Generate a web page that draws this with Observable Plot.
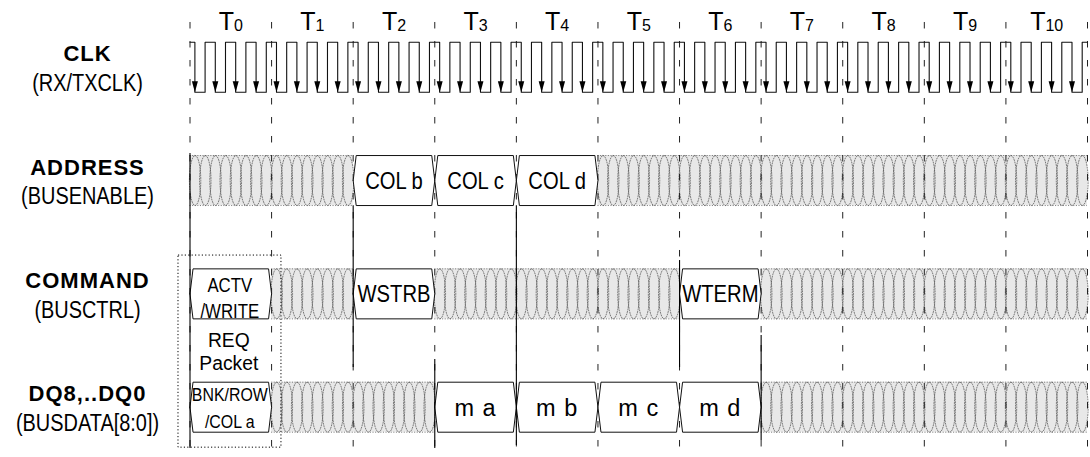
<!DOCTYPE html>
<html>
<head>
<meta charset="utf-8">
<script src="https://cdn.jsdelivr.net/npm/d3@7"></script>
<script src="https://cdn.jsdelivr.net/npm/@observablehq/plot@0.6"></script>
<style>
  html, body { margin: 0; padding: 0; background: #fff; }
  #chart svg { display: block; }
</style>
</head>
<body>
<div id="chart"></div>
<script>
// ---------------- data ----------------
const cycleLabels = ["T0","T1","T2","T3","T4","T5","T6","T7","T8","T9","T10"];
const cycleBoundaries = [0,1,2,3,4,5,6,7,8,9,10,11];
// four CLK periods per T cycle: falling-edge phases within one cycle
const clockFallPhases = [0.06, 0.31, 0.56, 0.81];
const clockLowLength = 0.125;

const signalNames   = ["CLK", "ADDRESS", "COMMAND", "DQ8,..DQ0"];
const signalAliases = ["(RX/TXCLK)", "(BUSENABLE)", "(BUSCTRL)", "(BUSDATA[8:0])"];

// bus segments: [start cycle, end cycle, value]  (null = don't care)
const addressBus = [[0,2,null],[2,3,"COL b"],[3,4,"COL c"],[4,5,"COL d"],[5,11,null]];
const commandBus = [[0,1,"ACTV\n/WRITE"],[1,2,null],[2,3,"WSTRB"],[3,6,null],[6,7,"WTERM"],[7,11,null]];
const dqBus      = [[0,1,"BNK/ROW\n/COL a"],[1,3,null],[3,4,"m a"],[4,5,"m b"],[5,6,"m c"],[6,7,"m d"],[7,11,null]];
const packetLabel = "REQ\nPacket";
const eventCycles = [0, 2, 3, 4, 6, 7];

// ---------------- layout (positions / styles) ----------------
const L = {
  xRange: [189.5, 1087],
  yRange: [66.7, 406.7],          // rows 0..3
  H: 0.2206,                      // half wave height (row units)
  slant: 0.037,                   // bus edge slant (cycle units)
  cell: 0.125,                    // don't-care hatch cell (cycle units)
  ruleTop: -0.3945, ruleBottom: 3.36,
  eventSpans: [[0.762,3.365],[1.222,2.650],[2.58,3.365],[1.222,3.338],[1.706,2.650],[2.367,3.294]],
  box: {x1: -0.141, x2: 1.121, y1: 1.662, y2: 3.357},
  labelX: 87,
  font: "'Liberation Sans', Arial, Helvetica, sans-serif"
};

// ---------------- derived tables ----------------
const buses = [{row: 1, segs: addressBus}, {row: 2, segs: commandBus}, {row: 3, segs: dqBus}];
const segs = buses.flatMap(b => b.segs.map(([s, e, label]) => ({row: b.row, s, e, label})));
const dontCare = segs.filter(d => d.label == null);
const valid = segs.filter(d => d.label != null);

const hexPts = valid.flatMap((d, i) => {
  const k = L.slant, H = L.H, r = d.row;
  return [[d.s, r],[d.s + k, r - H],[d.e - k, r - H],[d.e, r],[d.e - k, r + H],[d.s + k, r + H],[d.s, r]]
    .map(([x, y]) => ({x, y, id: i}));
});

const ellPts = [];
dontCare.forEach(d => {
  const n = Math.round((d.e - d.s) / L.cell);
  for (let i = 0; i < n; i++) {
    const cx = d.s + (i + 0.5) * L.cell;
    for (let j = 0; j <= 28; j++) {
      const a = j / 28 * 2 * Math.PI;
      ellPts.push({x: cx + L.cell * 0.56 * Math.sin(a), y: d.row - L.H * Math.cos(a), id: `${d.row}-${d.s}-${i}`});
    }
  }
});

const clkPts = [{x: 0, y: -L.H}];
const clkFalls = [];
cycleLabels.forEach((_, c) => clockFallPhases.forEach(p => {
  clkPts.push({x: c + p, y: L.H});
  clkPts.push({x: c + p + clockLowLength, y: -L.H});
  clkFalls.push(c + p);
}));
clkPts.push({x: 11, y: -L.H});

const arrowHead = {draw(ctx) { ctx.moveTo(0, 0); ctx.lineTo(-3, -11); ctx.lineTo(3, -11); ctx.closePath(); }};

const singleLabels = valid.filter(d => !d.label.includes("\n"));
const cmdTwoLine = valid.filter(d => d.label.includes("\n") && d.row === 2);
const dqTwoLine = valid.filter(d => d.label.includes("\n") && d.row === 3);

const chart = Plot.plot({
  width: 1090,
  height: 457,
  margin: 0,
  style: {background: "#fff"},
  x: {domain: [0, 11], range: L.xRange, axis: null},
  y: {domain: [0, 3], range: L.yRange, axis: null},
  marks: [
    // don't-care bands
    Plot.rect(dontCare, {x1: "s", x2: "e", y1: d => d.row - L.H, y2: d => d.row + L.H, fill: "#e8e8e8"}),
    Plot.line(ellPts, {x: "x", y: "y", z: "id", stroke: "#555", strokeWidth: 0.75, strokeDasharray: "1.1,1.5"}),
    Plot.ruleY(dontCare, {y: d => d.row - L.H, x1: "s", x2: "e", stroke: "#555", strokeWidth: 0.75, strokeDasharray: "1.1,1.5"}),
    Plot.ruleY(dontCare, {y: d => d.row + L.H, x1: "s", x2: "e", stroke: "#555", strokeWidth: 0.75, strokeDasharray: "1.1,1.5"}),
    // cycle boundaries
    Plot.ruleX(cycleBoundaries, {x: d => d, y1: L.ruleTop, y2: L.ruleBottom, stroke: "#222", strokeWidth: 1, strokeDasharray: "6.5,12.5"}),
    // valid bus values
    Plot.line(hexPts, {x: "x", y: "y", z: "id", fill: "white", stroke: "#111", strokeWidth: 1}),
    // clock
    Plot.line(clkPts, {x: "x", y: "y", curve: "step-after", stroke: "#111", strokeWidth: 1.1}),
    Plot.dot(clkFalls, {x: d => d, y: L.H, symbol: arrowHead, r: 4, fill: "#000", stroke: "none"}),
    // event lines
    Plot.ruleX(eventCycles, {x: d => d, y1: (d, i) => L.eventSpans[i][0], y2: (d, i) => L.eventSpans[i][1], stroke: "#000", strokeWidth: 1.1}),
    // request packet box
    Plot.rect([L.box], {x1: "x1", x2: "x2", y1: "y1", y2: "y2", fill: "none", stroke: "#000", strokeWidth: 1, strokeDasharray: "1.2,2.2"}),
    // texts
    Plot.text(cycleLabels, {x: (d, i) => i + 0.5, y: 0, dy: -45, text: d => d, fontSize: 25, fontFamily: L.font, fill: "#000"}),
    Plot.text(signalNames, {frameAnchor: "left", textAnchor: "middle", dx: L.labelX, y: (d, i) => i, dy: -13, text: d => d, fontSize: 22, fontWeight: "bold", fontFamily: L.font, fill: "#000"}),
    Plot.text(signalAliases, {frameAnchor: "left", textAnchor: "middle", dx: L.labelX, y: (d, i) => i, dy: 16, text: d => d, fontSize: 24, fontFamily: L.font, fill: "#000"}),
    Plot.text(singleLabels, {x: d => (d.s + d.e) / 2, y: "row", dy: 1, text: "label", fontSize: 23.5, fontFamily: L.font, fill: "#000"}),
    Plot.text(cmdTwoLine, {x: d => (d.s + d.e) / 2, y: "row", dy: 3, dx: -1, text: "label", fontSize: 21, lineHeight: 1.2, fontFamily: L.font, fill: "#000"}),
    Plot.text(dqTwoLine, {x: d => (d.s + d.e) / 2, y: "row", dy: -1, dx: -1, text: "label", fontSize: 18.5, lineHeight: 1.45, fontFamily: L.font, fill: "#000"}),
    Plot.text([packetLabel], {x: 0.5, y: 2.5, dy: 1, dx: -2, text: d => d, fontSize: 21, lineHeight: 1.1, fontFamily: L.font, fill: "#000"})
  ]
});

// ---- text post-processing: condensed faces, subscripts, letter spacing ----
const flat = s => s.replace(/\n/g, "");
const aliasSet = new Set(signalAliases);
const nameSet = new Set(signalNames);
const cycleSet = new Set(cycleLabels);
const dataSet = new Set(valid.filter(d => /^m /.test(d.label)).map(d => d.label));
const busSet = new Set(valid.filter(d => !/^m /.test(d.label)).map(d => flat(d.label)));
const ns = "http://www.w3.org/2000/svg";

chart.querySelectorAll("text").forEach(t => {
  const s = t.textContent;
  const condense = sx => {
    const tr = t.getAttribute("transform") || "";
    t.setAttribute("transform", `${tr} scale(${sx},1)`);
  };
  if (aliasSet.has(s)) condense(0.83);
  else if (busSet.has(s)) condense(s === "ACTV/WRITE" ? 0.8 : 0.86);
  else if (dataSet.has(s)) t.style.letterSpacing = "1px";
  else if (nameSet.has(s)) t.style.letterSpacing = "1px";
  else if (s === flat(packetLabel)) condense(0.92);
  else if (cycleSet.has(s)) {
    t.textContent = "";
    const a = document.createElementNS(ns, "tspan"); a.textContent = s.slice(0, 1);
    const b = document.createElementNS(ns, "tspan"); b.textContent = s.slice(1);
    b.setAttribute("font-size", "16"); b.setAttribute("dy", "1");
    t.appendChild(a); t.appendChild(b);
  }
});

document.getElementById("chart").appendChild(chart);
</script>
</body>
</html>
